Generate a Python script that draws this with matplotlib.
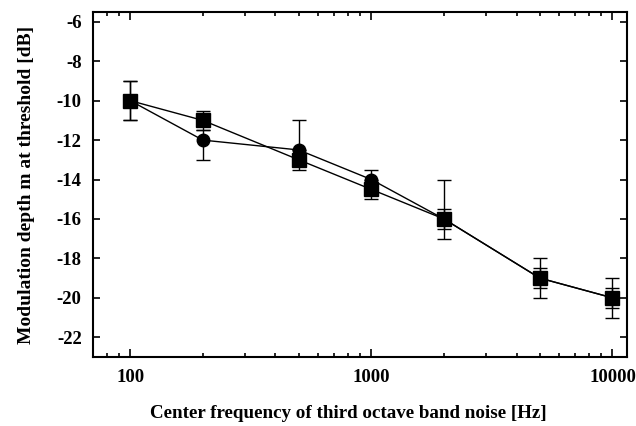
import numpy as np
import matplotlib
matplotlib.use("Agg")
import matplotlib.pyplot as plt
from matplotlib.ticker import FixedLocator, LogLocator, NullFormatter

# Center frequencies [Hz]
freqs = [100, 200, 500, 1000, 2000, 5000, 10000]

# Circle series
circle_y = [-10, -12, -12.5, -14, -16, -19, -20]
circle_err_lo = [1, 1, 0.5, 0.5, 1, 0.5, 0.5]
circle_err_hi = [1, 0.5, 1.5, 0.5, 2, 0.5, 0.5]

# Square series
square_y = [-10, -11, -13, -14.5, -16, -19, -20]
square_err_lo = [1, 0.5, 0.5, 0.5, 0.5, 1, 1]
square_err_hi = [1, 0.5, 0.5, 0.5, 0.5, 1, 1]

y_ticks = [-22, -20, -18, -16, -14, -12, -10, -8, -6]
x_ticks = [100, 1000, 10000]
x_labels = ["100", "1000", "10000"]

plt.rcParams['font.family'] = ['Liberation Serif', 'DejaVu Serif']
plt.rcParams['font.weight'] = 'bold'

fig = plt.figure(figsize=(6.36, 4.26), dpi=100)
ax = fig.add_axes([0.146, 0.162, 0.840, 0.810])

ax.errorbar(freqs, circle_y, yerr=[circle_err_lo, circle_err_hi], fmt='-o',
            color='black', ms=9, lw=1.0, elinewidth=1.0, capsize=5, capthick=1.0)
ax.errorbar(freqs, square_y, yerr=[square_err_lo, square_err_hi], fmt='-s',
            color='black', ms=10, lw=1.0, elinewidth=1.0, capsize=5, capthick=1.0)

ax.set_xscale('log')
ax.set_xlim(70, 11500)
ax.set_ylim(-23, -5.5)

ax.xaxis.set_major_locator(FixedLocator(x_ticks))
ax.set_xticklabels(x_labels)
ax.xaxis.set_minor_locator(LogLocator(base=10, subs=np.arange(2, 10)))
ax.xaxis.set_minor_formatter(NullFormatter())
ax.set_yticks(y_ticks)
ax.set_yticklabels([str(v) for v in y_ticks])

ax.tick_params(which='both', direction='in', top=True, right=True, width=1.2)
ax.tick_params(which='major', length=6, labelsize=13.5, pad=9)
ax.tick_params(axis='y', which='major', length=5, pad=8)
ax.tick_params(which='minor', length=3)
for s in ax.spines.values():
    s.set_linewidth(1.5)

ax.set_xlabel('Center frequency of third octave band noise [Hz]', fontsize=13.7,
              fontweight='bold', labelpad=13, x=0.478)
ax.set_ylabel('Modulation depth m at threshold [dB]', fontsize=14,
              fontweight='bold', labelpad=16)

fig.savefig('out.png', dpi=100)
